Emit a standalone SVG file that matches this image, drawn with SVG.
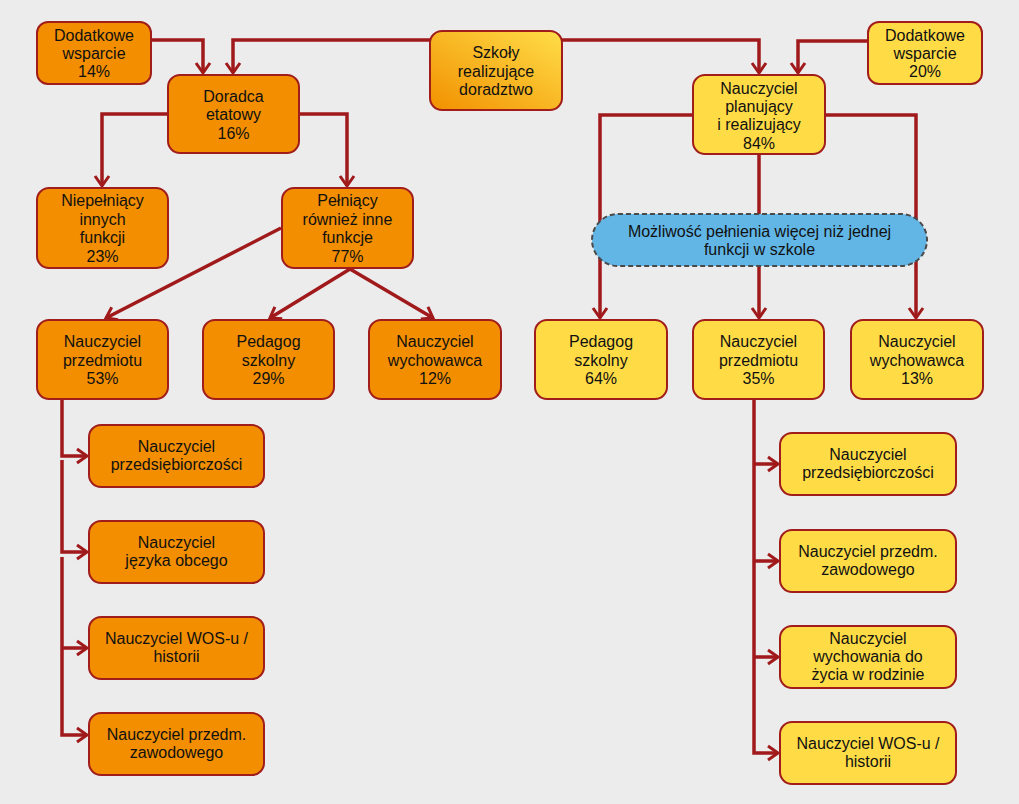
<svg xmlns="http://www.w3.org/2000/svg" width="1019" height="804" viewBox="0 0 1019 804">
<defs>
<style>
.bg{fill:#ececec}
.o{fill:#f28e00;stroke:#a11d1b;stroke-width:2}
.y{fill:#ffdc46;stroke:#a11d1b;stroke-width:2}
.g{fill:url(#grad);stroke:#a11d1b;stroke-width:2}
.b{fill:#62b6e6;stroke:#4a4a4a;stroke-width:2;stroke-dasharray:5 3}
.a{fill:none;stroke:#a0191b;stroke-width:3.5;marker-end:url(#arr)}
text{font-family:"Liberation Sans",Arial,sans-serif;font-size:16px;fill:#111;text-anchor:middle}
</style>
<linearGradient id="grad" x1="0" y1="1" x2="1" y2="0">
<stop offset="0" stop-color="#f29000"/>
<stop offset="1" stop-color="#ffde48"/>
</linearGradient>
<marker id="arr" markerUnits="userSpaceOnUse" markerWidth="16" markerHeight="18" refX="12" refY="8" orient="auto" viewBox="0 0 16 16">
<path d="M2,1 L12,8 L2,15" fill="none" stroke="#a0191b" stroke-width="3"/>
</marker>
</defs>
<rect class="bg" x="0" y="0" width="1019" height="804"/>
<g id="connectors">
<path class="a" d="M151,40 H203 V73"/>
<path class="a" d="M430,40 H233 V73"/>
<path class="a" d="M562,40 H759 V73"/>
<path class="a" d="M868,41 H798 V73"/>
<path class="a" d="M168,114 H102 V186"/>
<path class="a" d="M299,114 H347 V186"/>
<path class="a" d="M281,228 L106,318"/>
<path class="a" d="M350,269 L270,318"/>
<path class="a" d="M350,269 L433,318"/>
<path class="a" d="M693,115 H600 V318"/>
<path class="a" d="M759,154 V318"/>
<path class="a" d="M825,115 H916 V318"/>
<path class="a" d="M62,399 V456 H87"/>
<path class="a" d="M62,460 V552 H87"/>
<path class="a" d="M62,557 V735 H87"/>
<path class="a" d="M62,648 H87"/>
<path class="a" d="M754,399 V753 H778"/>
<path class="a" d="M754,464 H778"/>
<path class="a" d="M754,561 H778"/>
<path class="a" d="M754,657 H778"/>
</g>
<g id="n-dod14"><rect class="o" x="37" y="22" width="114" height="62" rx="11"/><text x="94" y="40.5">Dodatkowe<tspan x="94" dy="18.4">wsparcie</tspan><tspan x="94" dy="18.4">14%</tspan></text></g>
<g id="n-szkoly"><rect class="g" x="430" y="31" width="132" height="79" rx="12"/><text x="496" y="58">Szkoły<tspan x="496" dy="18.6">realizujące</tspan><tspan x="496" dy="18.6">doradztwo</tspan></text></g>
<g id="n-dod20"><rect class="y" x="868" y="22" width="114" height="62" rx="11"/><text x="925" y="40.5">Dodatkowe<tspan x="925" dy="18.4">wsparcie</tspan><tspan x="925" dy="18.4">20%</tspan></text></g>
<g id="n-doradca"><rect class="o" x="168" y="75" width="131" height="78" rx="12"/><text x="233.5" y="102">Doradca<tspan x="233.5" dy="18.4">etatowy</tspan><tspan x="233.5" dy="18.4">16%</tspan></text></g>
<g id="n-planujacy"><rect class="y" x="693" y="75" width="132" height="79" rx="12"/><text x="759" y="93.5">Nauczyciel<tspan x="759" dy="18.4">planujący</tspan><tspan x="759" dy="18.4">i realizujący</tspan><tspan x="759" dy="18.4">84%</tspan></text></g>
<g id="n-niepelniacy"><rect class="o" x="37" y="188" width="131" height="80" rx="12"/><text x="102.5" y="206">Niepełniący<tspan x="102.5" dy="18.6">innych</tspan><tspan x="102.5" dy="18.6">funkcji</tspan><tspan x="102.5" dy="18.6">23%</tspan></text></g>
<g id="n-pelniacy"><rect class="o" x="282" y="188" width="131" height="80" rx="12"/><text x="347.5" y="206">Pełniący<tspan x="347.5" dy="18.6">również inne</tspan><tspan x="347.5" dy="18.6">funkcje</tspan><tspan x="347.5" dy="18.6">77%</tspan></text></g>
<g id="n-mozliwosc"><rect class="b" x="592" y="214" width="335" height="52" rx="26"/><text x="759.5" y="237">Możliwość pełnienia więcej niż jednej<tspan x="759.5" dy="18.4">funkcji w szkole</tspan></text></g>
<g id="n-np53"><rect class="o" x="37" y="320" width="131" height="79" rx="12"/><text x="102.5" y="347">Nauczyciel<tspan x="102.5" dy="18.6">przedmiotu</tspan><tspan x="102.5" dy="18.6">53%</tspan></text></g>
<g id="n-ped29"><rect class="o" x="203" y="320" width="131" height="79" rx="12"/><text x="268.5" y="347">Pedagog<tspan x="268.5" dy="18.6">szkolny</tspan><tspan x="268.5" dy="18.6">29%</tspan></text></g>
<g id="n-wych12"><rect class="o" x="369" y="320" width="132" height="79" rx="12"/><text x="435" y="347">Nauczyciel<tspan x="435" dy="18.6">wychowawca</tspan><tspan x="435" dy="18.6">12%</tspan></text></g>
<g id="n-ped64"><rect class="y" x="535" y="320" width="132" height="79" rx="12"/><text x="601" y="347">Pedagog<tspan x="601" dy="18.6">szkolny</tspan><tspan x="601" dy="18.6">64%</tspan></text></g>
<g id="n-np35"><rect class="y" x="693" y="320" width="131" height="79" rx="12"/><text x="758.5" y="347">Nauczyciel<tspan x="758.5" dy="18.6">przedmiotu</tspan><tspan x="758.5" dy="18.6">35%</tspan></text></g>
<g id="n-wych13"><rect class="y" x="851" y="320" width="132" height="79" rx="12"/><text x="917" y="347">Nauczyciel<tspan x="917" dy="18.6">wychowawca</tspan><tspan x="917" dy="18.6">13%</tspan></text></g>
<g id="n-l1"><rect class="o" x="89" y="425" width="175" height="62" rx="12"/><text x="176.5" y="452">Nauczyciel<tspan x="176.5" dy="18.4">przedsiębiorczości</tspan></text></g>
<g id="n-l2"><rect class="o" x="89" y="521" width="175" height="62" rx="12"/><text x="176.5" y="548">Nauczyciel<tspan x="176.5" dy="18.4">języka obcego</tspan></text></g>
<g id="n-l3"><rect class="o" x="89" y="617" width="175" height="62" rx="12"/><text x="176.5" y="644">Nauczyciel WOS-u /<tspan x="176.5" dy="18.4">historii</tspan></text></g>
<g id="n-l4"><rect class="o" x="89" y="713" width="175" height="62" rx="12"/><text x="176.5" y="740">Nauczyciel przedm.<tspan x="176.5" dy="18.4">zawodowego</tspan></text></g>
<g id="n-r1"><rect class="y" x="780" y="433" width="176" height="62" rx="12"/><text x="868" y="460">Nauczyciel<tspan x="868" dy="18.4">przedsiębiorczości</tspan></text></g>
<g id="n-r2"><rect class="y" x="780" y="530" width="176" height="62" rx="12"/><text x="868" y="557">Nauczyciel przedm.<tspan x="868" dy="18.4">zawodowego</tspan></text></g>
<g id="n-r3"><rect class="y" x="780" y="626" width="176" height="62" rx="12"/><text x="868" y="643.5">Nauczyciel<tspan x="868" dy="18.4">wychowania do</tspan><tspan x="868" dy="18.4">życia w rodzinie</tspan></text></g>
<g id="n-r4"><rect class="y" x="780" y="722" width="176" height="62" rx="12"/><text x="868" y="749">Nauczyciel WOS-u /<tspan x="868" dy="18.4">historii</tspan></text></g>
</svg>
